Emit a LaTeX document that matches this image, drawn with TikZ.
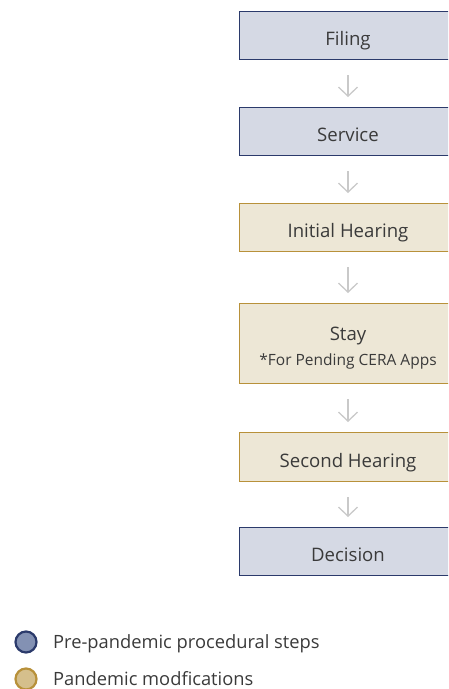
\documentclass[tikz,border=0pt]{standalone}
\usepackage{fontspec}
\setmainfont{Open Sans}
\usetikzlibrary{arrows.meta}
\definecolor{bluefill}{HTML}{D5D9E4}
\definecolor{blueline}{HTML}{2B3A6B}
\definecolor{goldfill}{HTML}{EDE7D6}
\definecolor{goldline}{HTML}{B8913A}
\definecolor{legblue}{HTML}{8391B3}
\definecolor{leggold}{HTML}{D5BF8C}
\definecolor{txt}{HTML}{3A3A3A}
\definecolor{arr}{HTML}{C9C9C9}
\begin{document}
\begin{tikzpicture}[x=1pt,y=-1pt,
  stepbox/.style={draw, line width=1pt, minimum width=218pt, inner sep=0pt, text=txt, font=\fontsize{18.6}{22}\selectfont, text height=20pt, text depth=0pt, anchor=north},
  bluebox/.style={stepbox, fill=bluefill, draw=blueline},
  goldbox/.style={stepbox, fill=goldfill, draw=goldline},
  conn/.style={draw=arr, line width=1.3pt, -{Straight Barb[length=9pt,width=19pt,line width=1.3pt]}, shorten <=15pt, shorten >=10pt},
  legtext/.style={anchor=base west, text=txt, font=\fontsize{18.3}{22}\selectfont, inner sep=0pt},
  intext/.style={anchor=base, text=txt, inner sep=0pt}]
\useasboundingbox (0,0) rectangle (448,689);
\clip (0,0) rectangle (448,689);
\node[bluebox, minimum height=48pt] (filing) at (348,11) {Filing};
\node[bluebox, minimum height=48pt] (service) at (348,107) {Service};
\node[goldbox, minimum height=48pt] (initial) at (348,203) {Initial Hearing};
\node[goldbox, minimum height=80pt] (stay) at (348,303) {};
\node[intext, font=\fontsize{18.6}{22}\selectfont] (staytitle) at (348,340) {Stay};
\node[intext, font=\fontsize{15.5}{18}\selectfont] (staynote) at (348,365) {*For Pending CERA Apps};
\node[goldbox, minimum height=49pt] (second) at (348,432) {Second Hearing};
\node[bluebox, minimum height=48pt] (decision) at (348,527) {Decision};
\draw[conn] (filing) -- (service);
\draw[conn] (service) -- (initial);
\draw[conn] (initial) -- (stay);
\draw[conn] (stay) -- (second);
\draw[conn] (second) -- (decision);
\node[circle, draw=blueline, fill=legblue, line width=2.2pt, minimum size=21pt, inner sep=0pt] (c1) at (26,642) {};
\node[circle, draw=goldline, fill=leggold, line width=2.2pt, minimum size=21pt, inner sep=0pt] (c2) at (26,679) {};
\node[legtext] (l1) at (53,648) {Pre-pandemic procedural steps};
\node[legtext] (l2) at (53,685) {Pandemic modfications};
\end{tikzpicture}
\end{document}
